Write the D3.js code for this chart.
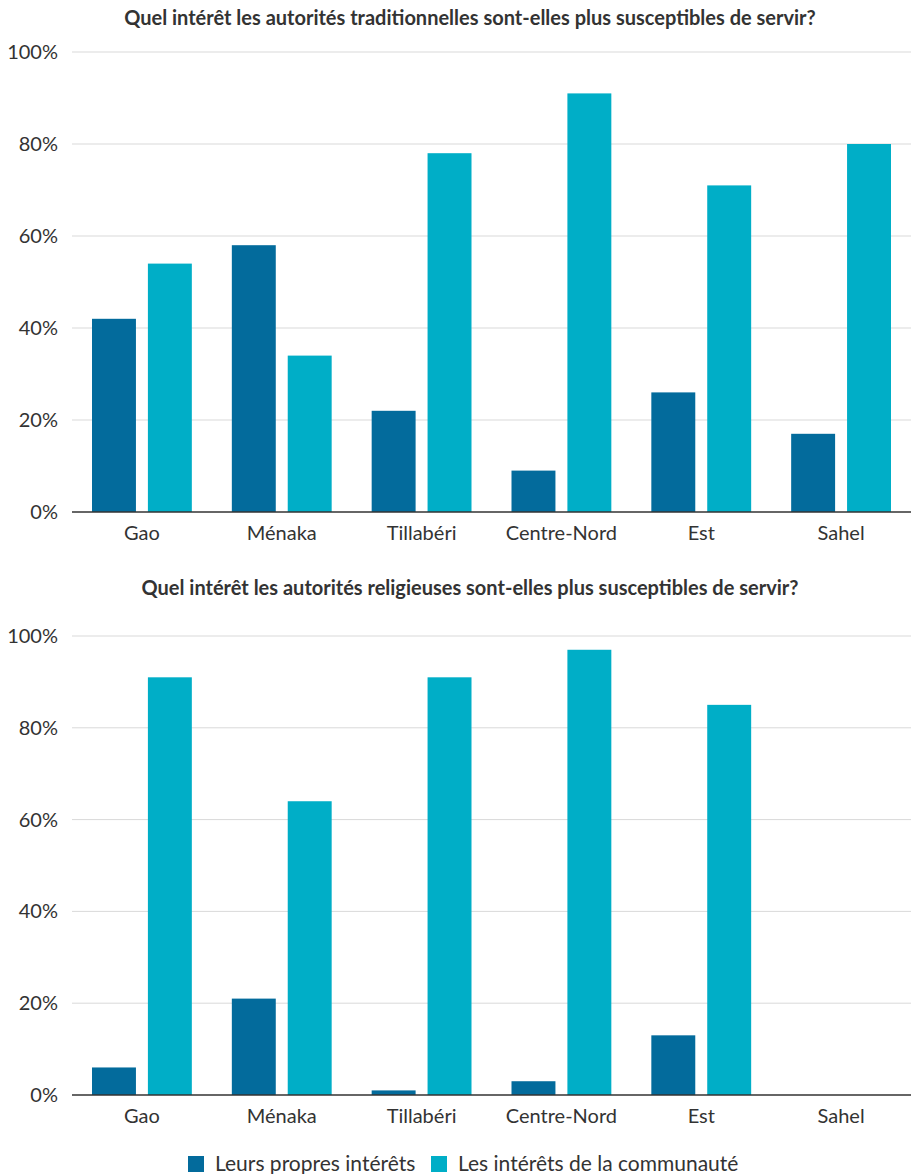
<!DOCTYPE html>
<html>
<head>
<meta charset="utf-8">
<script src="https://cdn.jsdelivr.net/npm/d3@7"></script>
<style>
  body { margin: 0; background: #fff; }
  text { font-family: "Source Sans Pro", Lato, "Noto Sans", sans-serif; fill: #333; }
</style>
</head>
<body>
<div id="wrapper"></div>
<script>
const regions = ['Gao', 'Ménaka', 'Tillabéri', 'Centre-Nord', 'Est', 'Sahel'];
const seriesNames = ['Leurs propres intérêts', 'Les intérêts de la communauté'];
const colors = ['#036b9c', '#00aec7'];

// chart 1: autorités traditionnelles
const tradOwn = [42, 58, 22, 9, 26, 17];
const tradCommunity = [54, 34, 78, 91, 71, 80];
// chart 2: autorités religieuses (Sahel: no data)
const relOwn = [6, 21, 1, 3, 13, null];
const relCommunity = [91, 64, 91, 97, 85, null];

const titles = [
  'Quel intérêt les autorités traditionnelles sont-elles plus susceptibles de servir?',
  'Quel intérêt les autorités religieuses sont-elles plus susceptibles de servir?'
];
const yTicks = [0, 20, 40, 60, 80, 100];

const W = 911, H = 1174;
const svg = d3.select('#wrapper').append('svg').attr('width', W).attr('height', H);

const x = d3.scaleBand().domain(regions).range([72, 911]).paddingInner(0).paddingOuter(0);
const xs = d3.scaleBand().domain([0, 1]).range([20, x.bandwidth() - 20]).paddingInner(0.214);

function drawChart(title, own, community, top, bottom, titleY) {
  const y = d3.scaleLinear().domain([0, 100]).range([bottom, top]);
  const g = svg.append('g');

  g.append('text')
    .attr('x', 470).attr('y', titleY)
    .attr('text-anchor', 'middle')
    .attr('font-size', 20).attr('font-weight', 'bold')
    .text(title);

  g.append('g')
    .selectAll('line')
    .data(yTicks.filter(d => d > 0))
    .enter().append('line')
    .attr('x1', 72).attr('x2', 911)
    .attr('y1', d => y(d)).attr('y2', d => y(d))
    .attr('stroke', '#d9d9d9');

  g.append('g')
    .selectAll('text')
    .data(yTicks)
    .enter().append('text')
    .attr('x', 58).attr('y', d => y(d))
    .attr('dy', '0.35em')
    .attr('text-anchor', 'end')
    .attr('font-size', 20)
    .text(d => d + '%');

  const rows = regions.map((r, i) => ({ region: r, vals: [own[i], community[i]] }));
  const groups = g.append('g')
    .selectAll('g')
    .data(rows)
    .enter().append('g')
    .attr('transform', d => `translate(${x(d.region)},0)`);

  groups.selectAll('rect')
    .data(d => d.vals.map((v, k) => ({ v, k })).filter(e => e.v != null))
    .enter().append('rect')
    .attr('x', e => xs(e.k))
    .attr('width', xs.bandwidth())
    .attr('y', e => y(e.v))
    .attr('height', e => bottom - y(e.v))
    .attr('fill', e => colors[e.k]);

  g.append('line')
    .attr('x1', 72).attr('x2', 911)
    .attr('y1', bottom).attr('y2', bottom)
    .attr('stroke', '#333').attr('stroke-width', 1.5);

  g.append('g')
    .selectAll('text')
    .data(regions)
    .enter().append('text')
    .attr('x', d => x(d) + x.bandwidth() / 2)
    .attr('y', bottom + 28)
    .attr('text-anchor', 'middle')
    .attr('font-size', 20)
    .text(d => d);
}

drawChart(titles[0], tradOwn, tradCommunity, 52, 512, 25);
drawChart(titles[1], relOwn, relCommunity, 636, 1095, 595);

// legend
const legend = svg.append('g').attr('transform', 'translate(188,1164)');
const items = legend.selectAll('g')
  .data(seriesNames)
  .enter().append('g')
  .attr('transform', (d, i) => `translate(${i === 0 ? 0 : 243},0)`);
items.append('rect')
  .attr('x', 0).attr('y', -8).attr('width', 16).attr('height', 16)
  .attr('fill', (d, i) => colors[i]);
items.append('text')
  .attr('x', 27).attr('y', 0).attr('dy', '0.35em')
  .attr('font-size', 21)
  .text(d => d);
</script>
</body>
</html>
